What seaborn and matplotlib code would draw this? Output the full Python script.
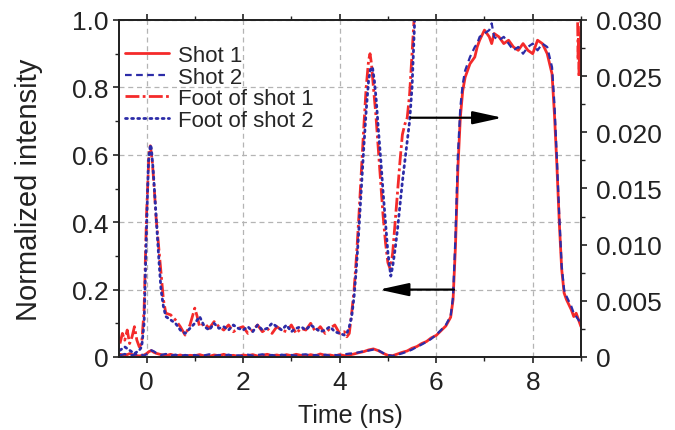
import numpy as np
import pandas as pd
import matplotlib
matplotlib.use("Agg")
import matplotlib.pyplot as plt
from matplotlib.ticker import MultipleLocator, FuncFormatter
import seaborn as sns

# ---------------- data ----------------
t_main = [-0.55, -0.45, -0.35, -0.25, -0.15, -0.05,
          0.0, 0.05, 0.1, 0.15, 0.2,
          0.3, 0.4, 0.5, 0.6, 0.7, 0.8, 0.9,
          1.0, 1.1, 1.2, 1.3, 1.4, 1.5, 1.6, 1.7, 1.8, 1.9,
          2.0, 2.1, 2.2, 2.3, 2.4, 2.5, 2.6, 2.7, 2.8, 2.9,
          3.0, 3.1, 3.2, 3.3, 3.4, 3.5, 3.6, 3.7, 3.8, 3.9,
          4.0, 4.1, 4.2, 4.3, 4.4, 4.5, 4.6, 4.7, 4.8, 4.9,
          5.0, 5.1, 5.2, 5.3, 5.4, 5.5, 5.6, 5.7, 5.8, 5.9, 6.0, 6.1, 6.2, 6.3,
          6.35, 6.4, 6.45, 6.5, 6.55, 6.6,
          6.7, 6.8, 6.85, 6.9,
          7.0, 7.1, 7.15, 7.2,
          7.3, 7.4, 7.5, 7.6, 7.7, 7.8, 7.9, 8.0, 8.1, 8.2, 8.3, 8.4,
          8.45, 8.5, 8.55, 8.6, 8.65, 8.7,
          8.8, 8.85, 8.9, 8.95, 9.0]

shot1 = [0.008, 0.004, 0.010, 0.005, 0.003, 0.006,
         0.010, 0.016, 0.019, 0.014, 0.011,
         0.007, 0.004, 0.008, 0.003, 0.006, 0.002, 0.005,
         0.004, 0.007, 0.003, 0.002, 0.006, 0.004, 0.008, 0.003, 0.005, 0.002,
         0.006, 0.004, 0.007, 0.003, 0.005, 0.008, 0.004, 0.006, 0.003, 0.007,
         0.004, 0.008, 0.005, 0.003, 0.007, 0.004, 0.009, 0.005, 0.006, 0.003,
         0.007, 0.004, 0.006, 0.009, 0.013, 0.016, 0.021, 0.024, 0.019, 0.011,
         0.005, 0.004, 0.009, 0.014, 0.018, 0.026, 0.031, 0.040, 0.046, 0.057, 0.064, 0.078, 0.092, 0.118,
         0.17, 0.33, 0.56, 0.71, 0.79, 0.83,
         0.87, 0.89, 0.92, 0.94,
         0.97, 0.95, 0.93, 0.96,
         0.95, 0.93, 0.94, 0.92, 0.91, 0.93, 0.91, 0.90, 0.94, 0.93, 0.90, 0.84,
         0.72, 0.57, 0.40, 0.26, 0.19, 0.17,
         0.14, 0.12, 0.13, 0.11, 0.09]

shot2 = [0.005, 0.009, 0.004, 0.007, 0.010, 0.004,
         0.008, 0.014, 0.020, 0.017, 0.012,
         0.006, 0.009, 0.004, 0.007, 0.003, 0.006, 0.004,
         0.006, 0.003, 0.005, 0.008, 0.003, 0.006, 0.004, 0.007, 0.003, 0.005,
         0.003, 0.007, 0.004, 0.006, 0.008, 0.004, 0.006, 0.003, 0.007, 0.005,
         0.006, 0.004, 0.007, 0.008, 0.004, 0.006, 0.003, 0.007, 0.004, 0.006,
         0.005, 0.008, 0.010, 0.011, 0.014, 0.017, 0.019, 0.022, 0.020, 0.012,
         0.006, 0.003, 0.007, 0.011, 0.016, 0.022, 0.030, 0.037, 0.045, 0.054, 0.066, 0.080, 0.095, 0.122,
         0.18, 0.36, 0.60, 0.74, 0.81, 0.85,
         0.89, 0.92, 0.93, 0.95,
         0.96, 0.97, 0.99, 0.95,
         0.94, 0.95, 0.93, 0.91, 0.92, 0.90, 0.92, 0.93, 0.91, 0.93, 0.92, 0.86,
         0.75, 0.59, 0.42, 0.27, 0.20, 0.18,
         0.15, 0.13, 0.12, 0.11, 0.10]

t_foot1 = [-0.55, -0.5, -0.45, -0.4, -0.35, -0.3, -0.25, -0.2, -0.15, -0.1, -0.05,
           0.0, 0.05, 0.08, 0.12, 0.16, 0.2, 0.25, 0.3, 0.35, 0.4,
           0.5, 0.6, 0.7, 0.8, 0.9,
           1.0, 1.05, 1.1,
           1.2, 1.3, 1.4, 1.5, 1.6, 1.7, 1.8, 1.9, 2.0, 2.1,
           2.2, 2.3, 2.4, 2.5, 2.6, 2.7, 2.8, 2.9, 3.0, 3.1,
           3.2, 3.3, 3.4, 3.5, 3.6, 3.7, 3.8, 3.9, 4.0, 4.1,
           4.15, 4.2, 4.25, 4.3, 4.35, 4.4, 4.45, 4.5, 4.55, 4.6,
           4.63, 4.66, 4.7, 4.75, 4.8, 4.85, 4.9, 4.95, 5.0, 5.05,
           5.1, 5.15, 5.2, 5.25, 5.3, 5.35, 5.4, 5.45, 5.5, 5.55, 5.6,
           8.9, 8.93, 8.94, 8.95, 8.96, 8.97, 8.98, 8.99, 9.0]

foot1 = [0.0012, 0.0021, 0.0015, 0.0024, 0.0012, 0.0018, 0.0027, 0.0015, 0.0009, 0.0012, 0.0042,
         0.0126, 0.0180, 0.0188, 0.0174, 0.0150, 0.0123, 0.0099, 0.0075, 0.0051, 0.0039,
         0.00375, 0.0033, 0.0027, 0.00195, 0.00285,
         0.00435, 0.0036, 0.0027,
         0.0030, 0.00255, 0.00315, 0.0027, 0.0024, 0.00285, 0.00225, 0.00255, 0.0027, 0.0021,
         0.0024, 0.00285, 0.00225, 0.00255, 0.0021, 0.0027, 0.0024, 0.00225, 0.00285, 0.0021,
         0.00255, 0.0024, 0.0030, 0.00225, 0.0027, 0.0021, 0.00255, 0.00285, 0.0021, 0.00225,
         0.0018, 0.0021, 0.0039, 0.0060, 0.0090, 0.0126, 0.0165, 0.0204, 0.0240, 0.0264,
         0.0270, 0.0261, 0.0240, 0.0216, 0.0186, 0.0156, 0.0126, 0.0102, 0.0084, 0.0078,
         0.0093, 0.0120, 0.0147, 0.0174, 0.0198, 0.0207, 0.0213, 0.0234, 0.0270, 0.0306, 0.0405,
         0.0405, 0.0300, 0.0264, 0.0288, 0.0249, 0.0276, 0.0258, 0.0285, 0.0306]

t_foot2 = [-0.55, -0.45, -0.35, -0.25, -0.15, -0.1, -0.05,
           0.0, 0.04, 0.08, 0.1, 0.14, 0.18, 0.22, 0.26, 0.3, 0.35, 0.4,
           0.5, 0.6, 0.7, 0.8, 0.9,
           1.0, 1.1, 1.2, 1.3, 1.4, 1.5, 1.6, 1.7, 1.8, 1.9,
           2.0, 2.1, 2.2, 2.3, 2.4, 2.5, 2.6, 2.7, 2.8, 2.9,
           3.0, 3.1, 3.2, 3.3, 3.4, 3.5, 3.6, 3.7, 3.8, 3.9,
           4.0, 4.1,
           4.15, 4.2, 4.25, 4.3, 4.35, 4.4, 4.45, 4.5, 4.55, 4.6,
           4.64, 4.68, 4.72, 4.76, 4.8, 4.85, 4.9, 4.95, 5.0, 5.06,
           5.1, 5.15, 5.2, 5.25, 5.3, 5.35, 5.4, 5.45, 5.5, 5.55, 5.6]

foot2 = [0.0006, 0.0009, 0.0006, 0.0003, 0.0006, 0.0009, 0.0030,
         0.0114, 0.0174, 0.0189, 0.0186, 0.0165, 0.0138, 0.0111, 0.0084, 0.0060, 0.0045, 0.0036,
         0.0033, 0.0030, 0.0024, 0.0021, 0.00255,
         0.0030, 0.0036, 0.0027, 0.0024, 0.0030, 0.00255, 0.0027, 0.0024, 0.00285, 0.00255,
         0.0024, 0.0027, 0.00225, 0.00285, 0.0024, 0.00255, 0.0030, 0.0027, 0.0024, 0.00285,
         0.00225, 0.00255, 0.0027, 0.0024, 0.00285, 0.00255, 0.00225, 0.0024, 0.0027, 0.00225,
         0.0021, 0.00195,
         0.0021, 0.0027, 0.0036, 0.0054, 0.0081, 0.0114, 0.0150, 0.0186, 0.0219, 0.0246,
         0.02565, 0.0258, 0.0246, 0.0228, 0.0204, 0.0177, 0.0147, 0.0120, 0.0093, 0.0072,
         0.0081, 0.0096, 0.0114, 0.0135, 0.0156, 0.0174, 0.0192, 0.0210, 0.0240, 0.0294, 0.0405]

labels = ["Shot 1", "Shot 2", "Foot of shot 1", "Foot of shot 2"]
x_ticks = [0, 2, 4, 6, 8]
y_left_ticks = [0, 0.2, 0.4, 0.6, 0.8, 1.0]
y_right_ticks = [0, 0.005, 0.010, 0.015, 0.020, 0.025, 0.030]

# ---------------- style ----------------
sns.set_theme(style="ticks")
plt.rcParams["font.family"] = ["Liberation Sans", "DejaVu Sans"]

RED = "#f42a2a"
BLUE = "#2c2ca8"

fig = plt.figure(figsize=(6.75, 4.31), dpi=100)
ax = fig.add_axes([119 / 675, 73 / 431, 462 / 675, 337 / 431])
ax2 = ax.twinx()

sns.lineplot(x=t_main, y=shot1, ax=ax, color=RED, lw=2.0, estimator=None, legend=False)
sns.lineplot(x=t_main, y=shot2, ax=ax, color=BLUE, lw=1.6, estimator=None, legend=False)
sns.lineplot(x=t_foot1, y=foot1, ax=ax2, color=RED, lw=2.0, estimator=None, legend=False)
sns.lineplot(x=t_foot2, y=foot2, ax=ax2, color=BLUE, lw=2.0, estimator=None, legend=False)

l1, l2 = ax.lines[0], ax.lines[1]
l3, l4 = ax2.lines[0], ax2.lines[1]
l1.set_linestyle("-")
l2.set_linestyle((0, (3.0, 2.0)))
l3.set_linestyle((0, (5.0, 1.2, 1.0, 1.2)))
l4.set_linestyle((0, (0.7, 1.5)))
l4.set_dash_capstyle("round")

ax.set_xlim(-0.57, 9.0)
ax.set_ylim(0, 1.0)
ax2.set_ylim(0, 0.030)

ax.set_xticks(x_ticks)
ax.set_yticks(y_left_ticks)
ax2.set_yticks(y_right_ticks)
ax.xaxis.set_minor_locator(MultipleLocator(1))
ax.yaxis.set_minor_locator(MultipleLocator(0.1))
ax2.yaxis.set_minor_locator(MultipleLocator(0.0025))
ax.yaxis.set_major_formatter(FuncFormatter(lambda v, p: "0" if abs(v) < 1e-9 else f"{v:.1f}"))
ax2.yaxis.set_major_formatter(FuncFormatter(lambda v, p: "0" if abs(v) < 1e-9 else f"{v:.3f}"))

ax.grid(True, which="major", linestyle=(0, (4, 3)), color="#b4b4b4", lw=0.9)
ax2.grid(False)

for a in (ax, ax2):
    for s in a.spines.values():
        s.set_linewidth(1.3)
        s.set_color("#222222")
        s.set_visible(True)

ax.tick_params(axis="both", which="major", direction="out", length=4.5, width=1.2,
               labelsize=19, pad=3, top=True, color="#222222", labelcolor="#222222")
ax.tick_params(axis="both", which="minor", direction="out", length=3, width=1.0,
               top=True, color="#222222")
ax.tick_params(axis="x", which="major", pad=5)
ax2.tick_params(axis="y", which="major", direction="out", length=4, width=1.2,
                labelsize=19, pad=7, color="#222222", labelcolor="#222222")
ax2.tick_params(axis="y", which="minor", direction="out", length=3, width=1.0, color="#222222")

ax.set_xlabel("Time (ns)", fontsize=18, labelpad=6, color="#222222")
ax.set_ylabel("Normalized intensity", fontsize=21, labelpad=21, color="#222222")
ax2.set_ylabel("")

# arrows pointing to the relevant axis
ax2.annotate("", xy=(7.37, 0.71), xytext=(5.47, 0.71),
             xycoords=ax.transData, textcoords=ax.transData,
             arrowprops=dict(arrowstyle="-|>,head_length=1.0,head_width=0.22",
                             color="black", lw=1.6, mutation_scale=18, shrinkA=0, shrinkB=0))
ax2.annotate("", xy=(4.82, 0.20), xytext=(6.37, 0.20),
             xycoords=ax.transData, textcoords=ax.transData,
             arrowprops=dict(arrowstyle="-|>,head_length=1.0,head_width=0.22",
                             color="black", lw=1.6, mutation_scale=18, shrinkA=0, shrinkB=0))

ax2.legend([l1, l2, l3, l4], labels, loc="upper left", bbox_to_anchor=(0.012, 0.925),
           frameon=False, fontsize=16, handlelength=2.0, handletextpad=0.4,
           labelspacing=0.02, borderpad=0, borderaxespad=0)

fig.savefig("out.png", dpi=100)
